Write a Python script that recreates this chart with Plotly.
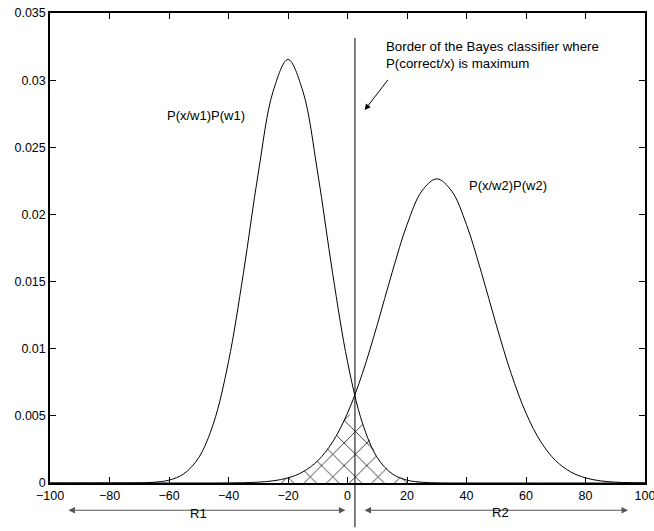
import numpy as np
import plotly.graph_objects as go

# x grid (read positions) and curve heights
x_vals = [-100, -95, -90, -85, -80, -75, -70, -65, -60, -55, -50, -45, -40, -35, -30, -25, -20,
          -15, -10, -5, 0, 5, 10, 15, 20, 25, 30, 35, 40, 45, 50, 55, 60, 65, 70, 75, 80,
          85, 90, 95, 100]
p1_vals = [0, 0, 0, 0.0000001, 0.0000004, 0.0000025, 0.0000128, 0.0000562, 0.0002125, 0.000686,
           0.001894, 0.004473, 0.009036, 0.015612, 0.023075, 0.029170, 0.03154,
           0.029170, 0.023075, 0.015612, 0.009036, 0.004473, 0.001894, 0.000686, 0.0002125,
           0.0000562, 0.0000128, 0.0000025, 0.0000004, 0.0000001, 0, 0, 0, 0, 0, 0, 0,
           0, 0, 0, 0]
p2_vals = [0, 0, 0, 0, 0, 0, 0, 0, 0, 0.0000002, 0.0000007, 0.0000023, 0.0000075, 0.0000227,
           0.0000632, 0.0001617, 0.000381, 0.000828, 0.001659, 0.003061, 0.005205, 0.008157,
           0.011783, 0.015683, 0.019234, 0.021744, 0.02265, 0.021744, 0.019234, 0.015683,
           0.011783, 0.008157, 0.005205, 0.003061, 0.001659, 0.000828, 0.000381, 0.0001617,
           0.0000632, 0.0000227, 0.0000075]

border_x = 2.5
x_ticks = [-100, -80, -60, -40, -20, 0, 20, 40, 60, 80, 100]
y_ticks = [0, 0.005, 0.01, 0.015, 0.02, 0.025, 0.03, 0.035]
y_ticktext = ["0", "0.005", "0.01", "0.015", "0.02", "0.025", "0.03", "0.035"]

FONT = "Liberation Sans, Arial, sans-serif"

xa = np.array(x_vals, dtype=float)
overlap = np.minimum(np.array(p1_vals), np.array(p2_vals))
mask = (xa >= -25) & (xa <= 25)

fig = go.Figure()
fig.add_trace(go.Scatter(
    x=xa[mask], y=overlap[mask], mode="lines", line=dict(width=0, color="black"),
    fill="tozeroy", fillcolor="rgba(0,0,0,0)",
    fillpattern=dict(shape="x", size=16, solidity=0.09, fgcolor="black",
                     bgcolor="rgba(0,0,0,0)", fgopacity=1),
    hoverinfo="skip", showlegend=False))
fig.add_trace(go.Scatter(x=x_vals, y=p1_vals, mode="lines", line=dict(color="black", width=1, shape="spline"),
                         showlegend=False))
fig.add_trace(go.Scatter(x=x_vals, y=p2_vals, mode="lines", line=dict(color="black", width=1, shape="spline"),
                         showlegend=False))

# Bayes border line (extends below the axis)
fig.add_shape(type="line", xref="x", yref="paper", x0=border_x, x1=border_x, y0=-0.094, y1=0.947,
              line=dict(color="black", width=1))

# Region arrows below the axis
for xs, xe in [(-94.3, -0.7), (5.2, 94.3)]:
    fig.add_annotation(x=xe, y=-0.058, ax=xs, ay=0, xref="x", yref="paper", axref="x", ayref="pixel",
                       text="", showarrow=True, arrowhead=2, arrowside="end+start", arrowsize=1.3,
                       arrowwidth=1, arrowcolor="#555555")
fig.add_annotation(x=-50, y=-0.085, xref="x", yref="paper", text="R1", showarrow=False,
                   font=dict(family=FONT, size=13, color="black"))
fig.add_annotation(x=51.5, y=-0.083, xref="x", yref="paper", text="R2", showarrow=False,
                   font=dict(family=FONT, size=13, color="black"))

# Curve labels
fig.add_annotation(x=-47.4, y=0.02739, text="P(x/w1)P(w1)", showarrow=False,
                   font=dict(family=FONT, size=13, color="black"))
fig.add_annotation(x=53.8, y=0.02218, text="P(x/w2)P(w2)", showarrow=False,
                   font=dict(family=FONT, size=13, color="black"))

# Border annotation
fig.add_annotation(x=12.27, y=0.03248, text="Border of the Bayes classifier where", showarrow=False,
                   xanchor="left", font=dict(family=FONT, size=13.3, color="black"))
fig.add_annotation(x=12.27, y=0.03124, text="P(correct/x) is maximum", showarrow=False,
                   xanchor="left", font=dict(family=FONT, size=13.3, color="black"))
fig.add_annotation(x=5.78, y=0.02777, ax=13.95, ay=0.03013, axref="x", ayref="y", text="",
                   showarrow=True, arrowhead=2, arrowsize=1.2, arrowwidth=1, arrowcolor="black")

axis_common = dict(showgrid=False, zeroline=False, showline=True, linecolor="black", linewidth=1.5,
                   mirror="ticks", ticks="inside", ticklen=6, tickcolor="black", tickwidth=1,
                   automargin=False, ticklabeloverflow="allow",
                   tickfont=dict(family=FONT, size=12.5, color="black"))
fig.update_xaxes(range=[-100, 100], tickvals=x_ticks, **axis_common)
fig.update_yaxes(range=[0, 0.035], tickvals=y_ticks, ticktext=y_ticktext, **axis_common)

fig.update_layout(width=654, height=531, margin=dict(l=50, r=8.5, t=13, b=48.3),
                  plot_bgcolor="white", paper_bgcolor="white", showlegend=False,
                  font=dict(family=FONT, color="black"))

# remove the page's default body margin so the figure sits at the window's corner
fig.write_html("out.html", config={"displayModeBar": False},
               post_script="document.body.style.margin='0';")
